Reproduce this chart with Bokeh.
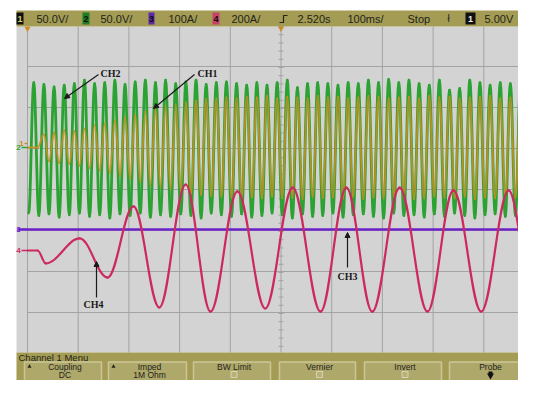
import numpy as np
from bokeh.plotting import figure
from bokeh.models import Range1d, Label, Arrow, NormalHead
from bokeh.embed import file_html
from bokeh.resources import INLINE

# ---------------- data read from the oscilloscope screen ----------------
# time base: 100 ms/div, 10 divisions; time in ms from the left screen edge
header_texts = ["50.0V/", "50.0V/", "100A/", "200A/", "2.520s", "100ms/", "Stop", "5.00V"]
channel_labels = ["CH1", "CH2", "CH3", "CH4"]
button_top = ["Coupling", "Imped", "BW Limit", "Vernier", "Invert", "Probe"]
button_bottom = ["DC", "1M Ohm", "", "", "", ""]
menu_title = "Channel 1 Menu"

# CH2 (green, V): 50 Hz, alternating negative / positive peaks
ch2_first_t = 2.4
ch2_half_period = 10.0
ch2_tops = [79, 77, 74, 76, 78, 82, 78, 79, 82, 77, 80, 82, 79, 82, 78, 80, 82, 77, 79, 80,
            78, 76, 79, 76, 79, 82, 73, 78, 79, 78, 76, 79, 78, 82, 79, 83, 79, 82, 78, 76,
            82, 70, 72, 82, 79, 76, 79, 78, 78, 73]
ch2_bottoms = [-80, -83, -81, -85, -82, -80, -84, -82, -86, -81, -83, -80, -85, -82, -84, -81,
               -83, -86, -80, -82, -84, -81, -85, -83, -80, -82, -86, -81, -84, -83, -80, -85,
               -82, -81, -84, -86, -80, -83, -82, -85, -81, -84, -80, -83, -86, -82, -81, -84,
               -83, -80]

# CH1 (orange, V): flat, then growing 50 Hz oscillation (in phase with CH2)
ch1_flat_t = [0.0, 20.0]
ch1_flat_v = [0.0, 0.0]
ch1_first_t = 32.4
ch1_half_period = 10.0
ch1_tops = [16, 18, 21, 20, 23, 27, 29, 33, 37, 40, 44, 48, 50, 52, 55, 57, 59, 60, 61, 60,
            62, 61, 63, 60, 62, 61, 60, 63, 61, 62, 60, 61, 63, 62, 60, 61, 62, 60, 63, 61,
            62, 60, 61, 62, 63, 60, 61, 62, 61]
ch1_bottoms = [-17, -19, -20, -22, -25, -28, -31, -35, -38, -42, -46, -49, -51, -54, -56, -58,
               -59, -60, -61, -62, -61, -62, -60, -62, -61, -63, -60, -62, -61, -62, -60, -63,
               -61, -62, -60, -61, -63, -62, -60, -61, -62, -60, -63, -61, -62, -60, -61, -62,
               -61]

# CH3 (purple, A): flat
ch3_t = [-20.0, 1000.0]
ch3_a = [0.0, 0.0]

# CH4 (red, A): extrema of the low-frequency oscillation
ch4_t = [0, 20, 36, 103, 158, 209, 260, 312, 361, 414, 469, 523, 578, 629, 680, 734, 789,
         840, 895, 949, 1000]
ch4_a = [0, 0, -63, 59, -132, 215, -278, 322, -298, 288, -283, 307, -298, 307, -298, 307,
         -298, 293, -298, 293, -283]

# ---------------- screen layout (pixels) ----------------
W, H = 518, 380
PX0, PX1, PY0, PY1 = 0, W, 0, H
X0, DIV_W = 27.0, 50.7                   # left grid line, px per division
YC, DIV_H = 189.0, 41.0                  # centre line, px per division
MS_PER_DIV = 100.0
grounds = {"ch12": (147.0, 50.0), "ch3": (229.0, 100.0), "ch4": (250.0, 200.0)}

p = figure(width=W, height=H, x_range=Range1d(PX0, PX1), y_range=Range1d(PY1, PY0),
           toolbar_location=None, output_backend="svg", min_border=0,
           x_axis_location=None, y_axis_location=None)
p.grid.visible = False
p.outline_line_color = None
p.background_fill_color = "white"
p.border_fill_color = "white"

p.extra_x_ranges = {"t": Range1d((PX0 - X0) / DIV_W * MS_PER_DIV, (PX1 - X0) / DIV_W * MS_PER_DIV)}
p.extra_y_ranges = {name: Range1d((g - PY1) / DIV_H * s, (g - PY0) / DIV_H * s)
                    for name, (g, s) in grounds.items()}

BAR = "#a49c55"
DARK = "#23231a"
UIFONT = "Liberation Sans"

# screen background and grid
p.quad(left=[16], right=[PX1], top=[26], bottom=[352], fill_color="#d3d3d3", line_color=None)
vx = [X0 + DIV_W * i for i in range(11)]
p.segment(x0=vx, y0=[26] * 11, x1=vx, y1=[352] * 11, line_color="#a3a3a3", line_width=1)
hy = [YC + DIV_H * j for j in range(-4, 5)]
p.segment(x0=[X0] * 9, y0=hy, x1=[540] * 9, y1=hy, line_color="#a3a3a3", line_width=1)
# minor ticks on the centre lines
cx = X0 + DIV_W * 5
ty = [26 + DIV_H / 5 * i for i in range(41)]
p.segment(x0=[cx - 2.5] * len(ty), y0=ty, x1=[cx + 2.5] * len(ty), y1=ty, line_color="#a3a3a3")
tx = [X0 + DIV_W / 5 * i for i in range(51)]
p.segment(x0=tx, y0=[YC - 2.5] * len(tx), x1=tx, y1=[YC + 2.5] * len(tx), line_color="#a3a3a3")


def bez(t, v, k=0.3634):
    t = np.asarray(t, float)
    v = np.asarray(v, float)
    dt = np.diff(t)
    return dict(x0=t[:-1], y0=v[:-1], x1=t[1:], y1=v[1:],
                cx0=t[:-1] + k * dt, cy0=v[:-1], cx1=t[1:] - k * dt, cy1=v[1:])


# CH2 green
ch2_v = [x for pair in zip(ch2_bottoms, ch2_tops) for x in pair]
ch2_tt = [ch2_first_t + ch2_half_period * i for i in range(len(ch2_v))]
p.bezier(**bez(ch2_tt, ch2_v), line_color="#2ba332", line_width=2.8, line_cap="round",
         x_range_name="t", y_range_name="ch12")

# CH1 orange
ch1_osc = [x for pair in zip(ch1_tops, ch1_bottoms) for x in pair]
ch1_tt = ch1_flat_t + [ch1_first_t + ch1_half_period * i for i in range(len(ch1_osc))]
ch1_vv = ch1_flat_v + ch1_osc
p.bezier(**bez(ch1_tt, ch1_vv), line_color="#c98e22", line_width=1.8, line_alpha=0.9,
         line_cap="round", x_range_name="t", y_range_name="ch12")

# CH3 purple
p.line(ch3_t, ch3_a, line_color="#6d22c8", line_width=2.6, x_range_name="t", y_range_name="ch3")

# CH4 red
p.bezier(**bez(ch4_t, ch4_a), line_color="#cc2a5e", line_width=2.2, line_cap="round",
         x_range_name="t", y_range_name="ch4")

# ground / channel markers at the left edge
for txt, x, y, col in [("2", 18, 147, "#2ba332"), ("1", 21, 143, "#c98e22"),
                       ("3", 18, 229, "#6d22c8"), ("4", 18, 250, "#cc2a5e")]:
    p.add_layout(Label(x=x, y=y, text=txt, text_font=UIFONT, text_font_size="8px",
                       text_color=col, text_baseline="middle", text_align="center",
                       text_font_style="bold"))
    p.segment(x0=[x + 3], y0=[y], x1=[X0], y1=[y], line_color=col, line_width=1.5)
p.inverted_triangle(x=[X0, cx], y=[28, 28], size=6, fill_color="#d08a1e", line_color=None)

# annotations
ANN = "Liberation Serif"
for txt, x, y in [("CH2", 100, 73), ("CH1", 197, 73), ("CH4", 83, 304), ("CH3", 337, 276)]:
    p.add_layout(Label(x=x, y=y, text=txt, text_font=ANN, text_font_size="10px",
                       text_font_style="bold", text_color="#1a1a1a", text_baseline="middle"))
for xs, ys, xe, ye in [(98, 74, 64, 98), (194, 74, 153, 108), (96, 297, 96, 261), (347, 267, 347, 232)]:
    p.add_layout(Arrow(end=NormalHead(size=5, fill_color="#1a1a1a", line_color="#1a1a1a"),
                       x_start=xs, y_start=ys, x_end=xe, y_end=ye,
                       line_color="#1a1a1a", line_width=1.2))

# header bar
p.quad(left=[16], right=[PX1], top=[10], bottom=[26], fill_color=BAR, line_color=None)
boxes = [(16, 23, "#101010", "1", "#d8cf6a"), (82, 89, "#1d7d24", "2", "#0c0c0c"),
         (148, 154, "#5a2aa8", "3", "#0c0c0c"), (212, 219, "#c8406a", "4", "#0c0c0c"),
         (465, 475, "#101010", "1", "#f0f0f0")]
for l, r, fc, t, tc in boxes:
    p.quad(left=[l], right=[r], top=[12], bottom=[24], fill_color=fc, line_color=None)
    p.add_layout(Label(x=(l + r) / 2, y=18, text=t, text_font=UIFONT, text_font_size="9px",
                       text_font_style="bold", text_color=tc, text_align="center",
                       text_baseline="middle"))
for txt, x in zip(header_texts, [36, 100, 168, 231, 297, 347, 407, 484]):
    p.add_layout(Label(x=x, y=18, text=txt, text_font=UIFONT, text_font_size="11px",
                       text_color=DARK, text_baseline="middle"))
# trigger edge symbol and slope symbol
p.multi_line(xs=[[279, 283, 283, 287]], ys=[[22, 22, 15, 15]], line_color=DARK, line_width=1.2)
p.add_layout(Label(x=448, y=18, text="ł", text_font=UIFONT, text_font_size="10px",
                   text_color=DARK, text_baseline="middle", text_align="center"))

# menu bar (compressed to fit the canvas)
p.quad(left=[16], right=[PX1], top=[352], bottom=[PY1 + 5], fill_color=BAR, line_color=None)
p.add_layout(Label(x=18, y=356.5, text=menu_title, text_font=UIFONT, text_font_size="9.5px",
                   text_color=DARK, text_baseline="middle"))
btn_x = [(24, 101), (108, 186), (193, 270), (279, 355), (364, 441), (449, 527)]
for (l, r), t1, t2 in zip(btn_x, button_top, button_bottom):
    p.quad(left=[l], right=[r], top=[361.5], bottom=[PY1 + 6], fill_color="#aea86b",
           line_color="#cbc697", line_width=1.5)
    c = (l + r) / 2 + 2
    p.add_layout(Label(x=c, y=366.5, text=t1, text_font=UIFONT, text_font_size="8.5px",
                       text_color=DARK, text_align="center", text_baseline="middle"))
    if t2:
        p.add_layout(Label(x=c, y=374.3, text=t2, text_font=UIFONT, text_font_size="8.5px",
                           text_color=DARK, text_align="center", text_baseline="middle"))
for l, r in btn_x[:2]:
    p.triangle(x=[l + 5], y=[366], size=4, fill_color=DARK, line_color=None)
for l, r in btn_x[2:5]:
    c = (l + r) / 2 + 2
    p.quad(left=[c - 3], right=[c + 3], top=[371], bottom=[377], fill_color="#b8b27a",
           line_color="#d8d4ac", line_width=1)
pc = (btn_x[5][0] + btn_x[5][1]) / 2 + 2
p.quad(left=[pc - 2], right=[pc + 2], top=[371], bottom=[374], fill_color="#101010", line_color=None)
p.inverted_triangle(x=[pc], y=[375], size=7, fill_color="#101010", line_color=None)

open("out.html", "w").write(file_html(p, INLINE))
